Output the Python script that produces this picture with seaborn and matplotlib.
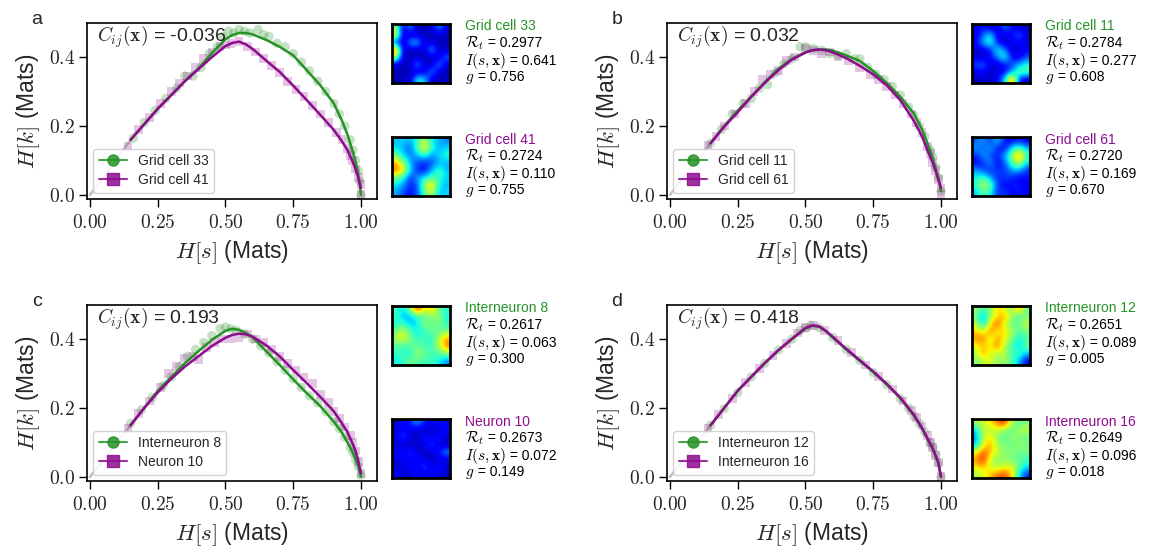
import numpy as np
import pandas as pd
import matplotlib
matplotlib.use("Agg")
import matplotlib.pyplot as plt
from matplotlib.lines import Line2D
from matplotlib.ticker import FuncFormatter
import seaborn as sns

# ---------------- data ----------------
GREEN = "#259325"
PURPLE = "#8e0c8e"

panel_letters = ["a", "b", "c", "d"]
corr_values = ["-0.036", "0.032", "0.193", "0.418"]
cell1_names = ["Grid cell 33", "Grid cell 11", "Interneuron 8", "Interneuron 12"]
cell2_names = ["Grid cell 41", "Grid cell 61", "Neuron 10", "Interneuron 16"]
cell1_Rt = ["0.2977", "0.2784", "0.2617", "0.2651"]
cell2_Rt = ["0.2724", "0.2720", "0.2673", "0.2649"]
cell1_I = ["0.641", "0.277", "0.063", "0.089"]
cell2_I = ["0.110", "0.169", "0.072", "0.096"]
cell1_g = ["0.756", "0.608", "0.300", "0.005"]
cell2_g = ["0.755", "0.670", "0.149", "0.018"]

x_ticks = [0.0, 0.25, 0.5, 0.75, 1.0]
y_ticks = [0.0, 0.2, 0.4]

fit_x = [0, 0.05, 0.1, 0.15, 0.2, 0.25, 0.3, 0.35, 0.4, 0.45, 0.5, 0.525, 0.55, 0.575, 0.6,
         0.65, 0.7, 0.75, 0.8, 0.85, 0.9, 0.93, 0.95, 0.97, 0.98, 0.99, 1.0]

# fitted curves (H[k] along fit_x)
fit_a1 = [0, 0.05, 0.105, 0.16, 0.205, 0.25, 0.29, 0.33, 0.367, 0.412, 0.452, 0.464, 0.47, 0.47,
          0.466, 0.45, 0.43, 0.405, 0.362, 0.318, 0.265, 0.215, 0.175, 0.125, 0.095, 0.06, 0.0]
fit_a2 = [0, 0.05, 0.105, 0.16, 0.205, 0.25, 0.29, 0.33, 0.365, 0.40, 0.432, 0.441, 0.445, 0.437,
          0.424, 0.39, 0.357, 0.317, 0.275, 0.232, 0.188, 0.155, 0.13, 0.095, 0.075, 0.05, 0.02]
fit_b1 = [0, 0.05, 0.1, 0.15, 0.2, 0.245, 0.285, 0.328, 0.366, 0.395, 0.414, 0.42, 0.422, 0.422,
          0.419, 0.405, 0.389, 0.36, 0.325, 0.285, 0.236, 0.19, 0.15, 0.105, 0.078, 0.05, 0.01]
fit_b2 = [0, 0.05, 0.1, 0.15, 0.198, 0.24, 0.285, 0.325, 0.362, 0.393, 0.413, 0.42, 0.422, 0.42,
          0.414, 0.397, 0.375, 0.35, 0.318, 0.275, 0.215, 0.17, 0.13, 0.092, 0.07, 0.045, 0.02]
fit_c1 = [0, 0.05, 0.1, 0.15, 0.2, 0.25, 0.29, 0.33, 0.365, 0.398, 0.424, 0.43, 0.427, 0.418,
          0.405, 0.365, 0.325, 0.283, 0.243, 0.205, 0.16, 0.128, 0.1, 0.07, 0.05, 0.03, 0.0]
fit_c2 = [0, 0.05, 0.1, 0.15, 0.2, 0.245, 0.285, 0.32, 0.35, 0.38, 0.404, 0.412, 0.416, 0.414,
          0.407, 0.382, 0.35, 0.31, 0.272, 0.232, 0.19, 0.155, 0.13, 0.095, 0.075, 0.045, 0.01]
fit_d1 = [0, 0.05, 0.1, 0.15, 0.2, 0.25, 0.29, 0.33, 0.367, 0.4, 0.431, 0.439, 0.436, 0.423,
          0.405, 0.37, 0.337, 0.304, 0.268, 0.228, 0.178, 0.14, 0.11, 0.08, 0.06, 0.04, 0.0]
fit_d2 = [0, 0.05, 0.1, 0.15, 0.2, 0.25, 0.291, 0.331, 0.368, 0.401, 0.432, 0.44, 0.437, 0.424,
          0.407, 0.372, 0.339, 0.306, 0.27, 0.23, 0.18, 0.142, 0.112, 0.082, 0.062, 0.042, 0.0]

# raw estimates (scatter)
raw_a1_x = [0.16, 0.2, 0.24, 0.28, 0.32, 0.35, 0.38, 0.41, 0.44, 0.47, 0.49, 0.51, 0.53, 0.55, 0.57,
            0.59, 0.62, 0.64, 0.66, 0.69, 0.72, 0.75, 0.78, 0.81, 0.84, 0.87, 0.9, 0.92, 0.94, 0.96,
            0.97, 0.98, 0.99, 0.995, 1.0]
raw_a1_y = [0.165, 0.21, 0.245, 0.28, 0.31, 0.345, 0.345, 0.37, 0.41, 0.43, 0.46, 0.475, 0.47, 0.48,
            0.475, 0.47, 0.48, 0.465, 0.46, 0.44, 0.43, 0.41, 0.385, 0.36, 0.33, 0.3, 0.265, 0.235,
            0.2, 0.16, 0.13, 0.1, 0.07, 0.04, 0.0]
raw_a2_x = [0.14, 0.18, 0.22, 0.26, 0.3, 0.33, 0.36, 0.39, 0.42, 0.45, 0.48, 0.5, 0.52, 0.55, 0.58,
            0.61, 0.64, 0.67, 0.7, 0.73, 0.76, 0.79, 0.82, 0.85, 0.88, 0.91, 0.93, 0.95, 0.96, 0.97,
            0.98, 0.99, 1.0, 1.0]
raw_a2_y = [0.14, 0.19, 0.225, 0.265, 0.3, 0.325, 0.345, 0.37, 0.395, 0.415, 0.43, 0.435, 0.44, 0.445,
            0.43, 0.415, 0.395, 0.375, 0.355, 0.33, 0.305, 0.285, 0.26, 0.235, 0.21, 0.18, 0.16,
            0.135, 0.115, 0.1, 0.075, 0.05, 0.03, 0.0]
raw_b1_x = [0.15, 0.19, 0.23, 0.27, 0.3, 0.33, 0.36, 0.39, 0.42, 0.45, 0.48, 0.5, 0.53, 0.56, 0.59,
            0.62, 0.65, 0.68, 0.7, 0.73, 0.76, 0.79, 0.82, 0.85, 0.88, 0.9, 0.92, 0.94, 0.96, 0.97,
            0.98, 0.99, 1.0]
raw_b1_y = [0.15, 0.19, 0.235, 0.265, 0.28, 0.31, 0.32, 0.355, 0.38, 0.395, 0.43, 0.43, 0.425, 0.42,
            0.41, 0.405, 0.41, 0.395, 0.395, 0.37, 0.35, 0.335, 0.315, 0.29, 0.255, 0.23, 0.2, 0.17,
            0.13, 0.11, 0.08, 0.05, 0.01]
raw_b2_x = [0.14, 0.17, 0.2, 0.24, 0.28, 0.31, 0.34, 0.37, 0.4, 0.43, 0.46, 0.5, 0.53, 0.56, 0.59,
            0.62, 0.66, 0.7, 0.74, 0.77, 0.8, 0.83, 0.86, 0.89, 0.91, 0.93, 0.95, 0.96, 0.97, 0.98,
            0.99, 1.0, 1.0]
raw_b2_y = [0.145, 0.17, 0.2, 0.235, 0.265, 0.3, 0.335, 0.35, 0.36, 0.39, 0.4, 0.425, 0.42, 0.41,
            0.415, 0.4, 0.39, 0.37, 0.35, 0.335, 0.315, 0.29, 0.265, 0.235, 0.21, 0.18, 0.14, 0.12,
            0.095, 0.07, 0.045, 0.02, 0.0]
raw_c1_x = [0.15, 0.19, 0.23, 0.27, 0.3, 0.33, 0.36, 0.39, 0.42, 0.45, 0.48, 0.5, 0.52, 0.54, 0.57,
            0.6, 0.63, 0.66, 0.69, 0.72, 0.75, 0.78, 0.81, 0.84, 0.87, 0.9, 0.92, 0.94, 0.96, 0.97,
            0.98, 0.99, 1.0]
raw_c1_y = [0.155, 0.195, 0.23, 0.265, 0.29, 0.32, 0.35, 0.37, 0.39, 0.41, 0.43, 0.435, 0.43, 0.425,
            0.415, 0.4, 0.38, 0.36, 0.335, 0.31, 0.285, 0.26, 0.235, 0.215, 0.19, 0.16, 0.14, 0.115,
            0.085, 0.07, 0.05, 0.03, 0.005]
raw_c2_x = [0.14, 0.18, 0.22, 0.26, 0.29, 0.32, 0.35, 0.38, 0.4, 0.43, 0.46, 0.49, 0.52, 0.55, 0.58,
            0.61, 0.64, 0.67, 0.7, 0.73, 0.76, 0.79, 0.82, 0.85, 0.88, 0.9, 0.92, 0.94, 0.96, 0.97,
            0.98, 0.99, 1.0]
raw_c2_y = [0.14, 0.185, 0.22, 0.26, 0.3, 0.32, 0.345, 0.35, 0.34, 0.375, 0.39, 0.4, 0.4, 0.405,
            0.415, 0.4, 0.39, 0.37, 0.35, 0.33, 0.31, 0.29, 0.27, 0.24, 0.215, 0.19, 0.17, 0.145,
            0.12, 0.1, 0.075, 0.045, 0.01]
raw_d1_x = [0.15, 0.2, 0.25, 0.3, 0.35, 0.4, 0.45, 0.48, 0.5, 0.52, 0.55, 0.6, 0.65, 0.7, 0.75,
            0.8, 0.85, 0.88, 0.9, 0.92, 0.94, 0.96, 0.97, 0.98, 0.99, 1.0]
raw_d1_y = [0.15, 0.198, 0.245, 0.29, 0.33, 0.368, 0.4, 0.425, 0.432, 0.44, 0.433, 0.405, 0.37,
            0.338, 0.303, 0.268, 0.227, 0.2, 0.176, 0.155, 0.13, 0.1, 0.085, 0.065, 0.04, 0.0]
raw_d2_x = [0.14, 0.18, 0.23, 0.28, 0.33, 0.38, 0.43, 0.47, 0.5, 0.53, 0.57, 0.62, 0.67, 0.72, 0.77,
            0.82, 0.86, 0.89, 0.91, 0.93, 0.95, 0.96, 0.97, 0.98, 0.99, 1.0]
raw_d2_y = [0.14, 0.18, 0.228, 0.273, 0.315, 0.352, 0.388, 0.418, 0.434, 0.44, 0.425, 0.395, 0.36,
            0.325, 0.292, 0.255, 0.22, 0.192, 0.172, 0.148, 0.12, 0.1, 0.085, 0.062, 0.042, 0.0]

# rate maps (8x8, rows top -> bottom)
map_a1 = [[0.55, 0.06, 0.3, 0.05, 0.05, 0.07, 0.3, 0.08],
          [0.7, 0.05, 0.05, 0.07, 0.05, 0.05, 0.05, 0.05],
          [0.15, 0.05, 0.3, 0.35, 0.05, 0.1, 0.05, 0.07],
          [0.9, 0.05, 0.05, 0.07, 0.05, 0.35, 0.05, 0.05],
          [0.6, 0.05, 0.05, 0.05, 0.05, 0.05, 0.07, 0.25],
          [0.05, 0.07, 0.05, 0.32, 0.05, 0.05, 0.3, 0.05],
          [0.05, 0.05, 0.05, 0.05, 0.07, 0.3, 0.05, 0.05],
          [0.05, 0.07, 0.05, 0.4, 0.35, 0.05, 0.05, 0.07]]
map_a2 = [[0.3, 0.35, 0.3, 0.4, 0.6, 0.35, 0.3, 0.25],
          [0.35, 0.3, 0.2, 0.45, 0.7, 0.4, 0.3, 0.35],
          [0.5, 0.35, 0.25, 0.3, 0.4, 0.25, 0.35, 0.4],
          [0.75, 0.55, 0.3, 0.2, 0.15, 0.2, 0.3, 0.3],
          [0.8, 0.7, 0.35, 0.15, 0.12, 0.3, 0.45, 0.3],
          [0.5, 0.4, 0.15, 0.3, 0.35, 0.45, 0.4, 0.35],
          [0.35, 0.3, 0.15, 0.2, 0.55, 0.75, 0.35, 0.3],
          [0.3, 0.2, 0.12, 0.2, 0.45, 0.6, 0.3, 0.35]]
map_b1 = [[0.08, 0.15, 0.06, 0.08, 0.25, 0.12, 0.08, 0.06],
          [0.08, 0.2, 0.4, 0.08, 0.08, 0.12, 0.25, 0.08],
          [0.12, 0.3, 0.45, 0.12, 0.08, 0.08, 0.12, 0.08],
          [0.06, 0.08, 0.12, 0.4, 0.25, 0.06, 0.08, 0.12],
          [0.08, 0.06, 0.12, 0.25, 0.45, 0.12, 0.08, 0.2],
          [0.2, 0.25, 0.08, 0.06, 0.12, 0.2, 0.3, 0.4],
          [0.08, 0.12, 0.06, 0.08, 0.12, 0.25, 0.5, 0.45],
          [0.05, 0.08, 0.06, 0.12, 0.3, 0.9, 0.12, 0.08]]
map_b2 = [[0.2, 0.3, 0.15, 0.35, 0.15, 0.1, 0.15, 0.1],
          [0.3, 0.2, 0.3, 0.15, 0.1, 0.35, 0.45, 0.3],
          [0.15, 0.3, 0.2, 0.15, 0.3, 0.5, 0.85, 0.4],
          [0.1, 0.15, 0.3, 0.1, 0.2, 0.45, 0.6, 0.35],
          [0.3, 0.2, 0.15, 0.2, 0.15, 0.3, 0.3, 0.15],
          [0.35, 0.45, 0.3, 0.15, 0.2, 0.15, 0.1, 0.15],
          [0.4, 0.6, 0.5, 0.2, 0.1, 0.15, 0.15, 0.1],
          [0.3, 0.45, 0.4, 0.15, 0.2, 0.1, 0.15, 0.1]]
map_c1 = [[0.4, 0.35, 0.5, 0.95, 0.6, 0.75, 0.45, 0.4],
          [0.45, 0.3, 0.3, 0.4, 0.45, 0.5, 0.55, 0.35],
          [0.35, 0.45, 0.3, 0.35, 0.55, 0.45, 0.5, 0.4],
          [0.5, 0.6, 0.45, 0.35, 0.4, 0.5, 0.45, 0.5],
          [0.55, 0.65, 0.5, 0.4, 0.45, 0.35, 0.6, 0.75],
          [0.45, 0.4, 0.45, 0.5, 0.4, 0.45, 0.55, 0.8],
          [0.4, 0.45, 0.35, 0.55, 0.5, 0.4, 0.45, 0.5],
          [0.35, 0.4, 0.5, 0.45, 0.4, 0.45, 0.35, 0.25]]
map_c2 = [[0.06, 0.1, 0.15, 0.3, 0.15, 0.08, 0.15, 0.08],
          [0.08, 0.15, 0.08, 0.06, 0.05, 0.08, 0.06, 0.15],
          [0.05, 0.22, 0.08, 0.06, 0.15, 0.08, 0.15, 0.06],
          [0.08, 0.06, 0.05, 0.08, 0.06, 0.22, 0.06, 0.05],
          [0.15, 0.08, 0.22, 0.05, 0.08, 0.06, 0.15, 0.3],
          [0.06, 0.15, 0.06, 0.15, 0.08, 0.05, 0.08, 0.06],
          [0.08, 0.05, 0.15, 0.08, 0.22, 0.08, 0.15, 0.08],
          [0.15, 0.08, 0.06, 0.15, 0.06, 0.15, 0.08, 0.06]]
map_d1 = [[0.55, 0.45, 0.5, 0.7, 0.6, 0.5, 0.8, 0.45],
          [0.5, 0.25, 0.55, 0.65, 0.75, 0.55, 0.4, 0.5],
          [0.6, 0.3, 0.65, 0.85, 0.6, 0.45, 0.5, 0.6],
          [0.7, 0.6, 0.8, 0.6, 0.7, 0.55, 0.45, 0.5],
          [0.75, 0.8, 0.55, 0.75, 0.65, 0.5, 0.35, 0.45],
          [0.6, 0.7, 0.65, 0.8, 0.55, 0.45, 0.3, 0.5],
          [0.55, 0.75, 0.6, 0.55, 0.6, 0.4, 0.45, 0.3],
          [0.5, 0.55, 0.65, 0.5, 0.55, 0.45, 0.3, 0.1]]
map_d2 = [[0.55, 0.6, 0.65, 0.8, 0.9, 0.55, 0.45, 0.5],
          [0.3, 0.6, 0.55, 0.6, 0.5, 0.45, 0.55, 0.6],
          [0.25, 0.55, 0.7, 0.5, 0.45, 0.55, 0.5, 0.45],
          [0.3, 0.6, 0.75, 0.55, 0.5, 0.45, 0.55, 0.5],
          [0.6, 0.85, 0.7, 0.6, 0.5, 0.55, 0.45, 0.5],
          [0.75, 0.9, 0.6, 0.5, 0.55, 0.45, 0.5, 0.4],
          [0.65, 0.7, 0.6, 0.55, 0.6, 0.65, 0.45, 0.35],
          [0.55, 0.6, 0.7, 0.8, 0.85, 0.7, 0.35, 0.15]]

fits1 = [fit_a1, fit_b1, fit_c1, fit_d1]
fits2 = [fit_a2, fit_b2, fit_c2, fit_d2]
raws1 = [(raw_a1_x, raw_a1_y), (raw_b1_x, raw_b1_y), (raw_c1_x, raw_c1_y), (raw_d1_x, raw_d1_y)]
raws2 = [(raw_a2_x, raw_a2_y), (raw_b2_x, raw_b2_y), (raw_c2_x, raw_c2_y), (raw_d2_x, raw_d2_y)]
maps1 = [map_a1, map_b1, map_c1, map_d1]
maps2 = [map_a2, map_b2, map_c2, map_d2]

# ---------------- style ----------------
sns.set_theme(style="ticks")
plt.rcParams["font.family"] = ["Liberation Sans", "DejaVu Sans"]
plt.rcParams["mathtext.fontset"] = "cm"
plt.rcParams["axes.edgecolor"] = "black"
plt.rcParams["axes.linewidth"] = 1.2

W, H = 1157, 554
fig = plt.figure(figsize=(W / 100, H / 100), dpi=100)
renderer = fig.canvas.get_renderer()

def fx(px):
    return px / W

def fy(py):
    return 1 - py / H

def two_part(x_px, base_px, math_str, rest_str, math_fs=11, rest_fs=10, color="black"):
    t1 = fig.text(fx(x_px), fy(base_px), math_str, fontsize=math_fs, ha="left",
                  va="baseline", color=color)
    bb = t1.get_window_extent(renderer)
    x_end = fig.transFigure.inverted().transform((bb.x1, 0))[0]
    fig.text(x_end, fy(base_px), rest_str, fontsize=rest_fs, ha="left", va="baseline",
             color=color)

panel_origin = [(87, 23), (667, 23), (87, 305), (667, 305)]
AX_W, AX_H = 290, 176
HM_DX, HM_W, HM_H = 305, 58, 59
HM_TOP_OFF = [1, 114]
TXT_OFF = [6.5, 23, 41, 57]

tick_fmt_x = FuncFormatter(lambda v, p: "$%.2f$" % v)
tick_fmt_y = FuncFormatter(lambda v, p: "$%.1f$" % v)

for i in range(4):
    L, T = panel_origin[i]
    ax = fig.add_axes([fx(L), fy(T + AX_H), fx(AX_W), AX_H / H])

    fdf1 = pd.DataFrame({"x": fit_x, "y": fits1[i]})
    fdf2 = pd.DataFrame({"x": fit_x, "y": fits2[i]})
    r1 = pd.DataFrame({"x": raws1[i][0], "y": raws1[i][1]})
    r2 = pd.DataFrame({"x": raws2[i][0], "y": raws2[i][1]})

    sns.scatterplot(data=r1, x="x", y="y", ax=ax, marker="o", s=46, color=GREEN,
                    alpha=0.27, edgecolor="none", legend=False)
    sns.scatterplot(data=r2, x="x", y="y", ax=ax, marker="s", s=40, color=PURPLE,
                    alpha=0.24, edgecolor="none", legend=False)
    for fdf, col in [(fdf1, GREEN), (fdf2, PURPLE)]:
        lo = fdf[fdf["x"] <= 0.15]
        hi = fdf[fdf["x"] >= 0.15]
        sns.lineplot(data=lo, x="x", y="y", ax=ax, color=col, alpha=0.2, lw=1.8,
                     sort=False, estimator=None, legend=False)
        sns.lineplot(data=hi, x="x", y="y", ax=ax, color=col, lw=1.8,
                     sort=False, estimator=None, legend=False)

    ax.set_xlim(-0.011, 1.059)
    ax.set_ylim(-0.012, 0.499)
    ax.set_xticks(x_ticks)
    ax.set_yticks(y_ticks)
    ax.xaxis.set_major_formatter(tick_fmt_x)
    ax.yaxis.set_major_formatter(tick_fmt_y)
    ax.tick_params(axis="both", which="major", length=5.5, width=1.0, labelsize=14,
                   direction="out", color="black", pad=3)
    ax.tick_params(axis="x", pad=5)
    for sp in ax.spines.values():
        sp.set_visible(True)
        sp.set_color("black")
        sp.set_linewidth(1.2)
    ax.set_xlabel(r"$H[s]$ (Mats)", fontsize=16.5, labelpad=5)
    ax.set_ylabel(r"$H[k]$ (Mats)", fontsize=16.5, labelpad=5)
    ax.grid(False)

    ax.text(0.034, 0.92, r"$C_{ij}(\mathbf{x})$ = " + corr_values[i], transform=ax.transAxes,
            ha="left", va="center", fontsize=14)

    handles = [Line2D([0], [0], color=GREEN, marker="o", markersize=8, lw=1.5, alpha=0.85),
               Line2D([0], [0], color=PURPLE, marker="s", markersize=8, lw=1.5, alpha=0.85)]
    ax.legend(handles, [cell1_names[i], cell2_names[i]], loc="lower left",
              fontsize=10, frameon=True, framealpha=0.85, edgecolor="#cccccc",
              handlelength=2.0, borderaxespad=0.45, borderpad=0.4, labelspacing=0.35)

    fig.text(fx(L - 50), fy(T - 3), panel_letters[i], fontsize=14, ha="center", va="center")

    names = [cell1_names[i], cell2_names[i]]
    cols = [GREEN, PURPLE]
    Rts = [cell1_Rt[i], cell2_Rt[i]]
    Is = [cell1_I[i], cell2_I[i]]
    gs = [cell1_g[i], cell2_g[i]]
    mps = [maps1[i], maps2[i]]
    for k in range(2):
        htop = T + HM_TOP_OFF[k]
        hx = L + HM_DX
        hax = fig.add_axes([fx(hx), fy(htop + HM_H), fx(HM_W), HM_H / H])
        hax.imshow(np.array(mps[k]), cmap="jet", vmin=0, vmax=1, interpolation="bicubic",
                   aspect="auto")
        hax.set_xticks([])
        hax.set_yticks([])
        for sp in hax.spines.values():
            sp.set_visible(True)
            sp.set_color("black")
            sp.set_linewidth(2.0)
        tx = hx + 73
        fig.text(fx(tx), fy(htop + TXT_OFF[0]), names[k], color=cols[k], fontsize=10,
                 ha="left", va="baseline")
        two_part(tx, htop + TXT_OFF[1], r"$\mathcal{R}_t$", " = " + Rts[k])
        two_part(tx, htop + TXT_OFF[2], r"$I(s, \mathbf{x})$", " = " + Is[k])
        two_part(tx, htop + TXT_OFF[3], r"$g$", " = " + gs[k])

fig.savefig("out.png", dpi=100, facecolor="white")
